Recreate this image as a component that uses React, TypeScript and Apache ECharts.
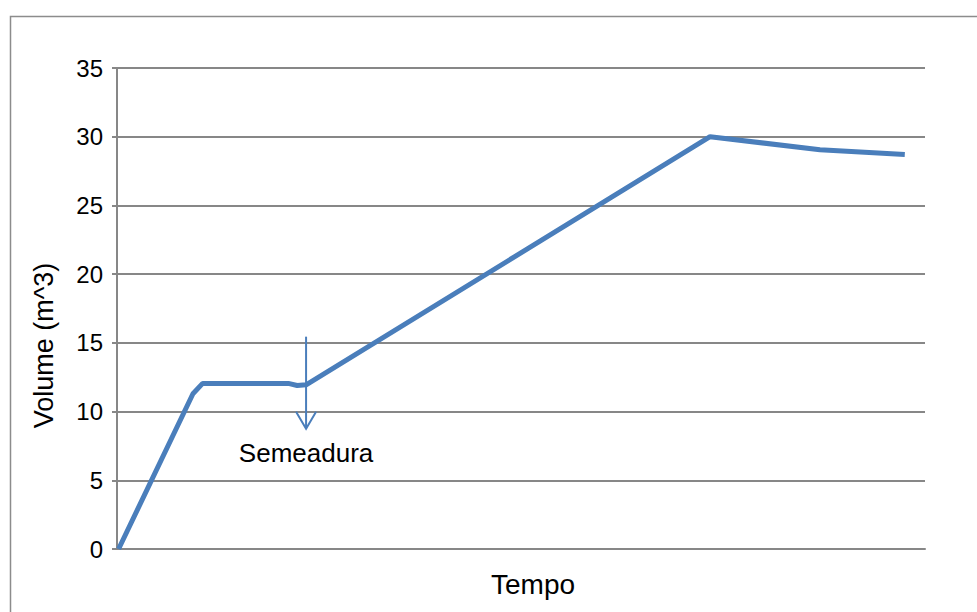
import React, { useEffect, useRef } from "react";
import * as echarts from "echarts";

const timeValues = [0.2, 9.4, 10.6, 21.2, 22.3, 23.4, 73.4, 87.0, 97.5];
const volumeValues = [0, 11.3, 12.05, 12.05, 11.9, 11.95, 30.0, 29.05, 28.7];
const yTicks = [0, 5, 10, 15, 20, 25, 30, 35];
const annotationX = [23.4];
const annotationTop = [15.45];
const annotationTip = [8.75];
const annotationLabelY = [6.95];
const annotationText = ["Semeadura"];

const FONT = "'Liberation Sans', Arial, sans-serif";
const BLUE = "#4a7ebb";
const GRAY = "#878787";

export default function App() {
  const ref = useRef<HTMLDivElement>(null);
  useEffect(() => {
    if (!ref.current) return;
    const chart = echarts.init(ref.current, undefined, { renderer: "svg" });
    const lineData = timeValues.map((t, i) => [t, volumeValues[i]]);
    const annData = annotationX.map((x, i) => [x, annotationTop[i], annotationTip[i], annotationLabelY[i]]);
    chart.setOption({
      animation: false,
      backgroundColor: "#ffffff",
      textStyle: { fontFamily: FONT },
      graphic: [
        {
          type: "rect",
          left: 8,
          top: 14,
          shape: { width: 1100, height: 800 },
          style: { fill: "none", stroke: "#8c8c8c", lineWidth: 1.5 },
          silent: true,
          z: -10,
        },
      ],
      grid: { left: 117, right: 52, top: 68, bottom: 63, containLabel: false },
      xAxis: {
        type: "value",
        min: 0,
        max: 100,
        name: "Tempo",
        nameLocation: "middle",
        nameGap: 21,
        nameTextStyle: { fontSize: 28, color: "#000", fontFamily: FONT, padding: [0, 0, 0, 24], verticalAlign: "top" },
        axisLine: { show: true, onZero: false, lineStyle: { color: GRAY, width: 2 } },
        axisTick: { show: false },
        axisLabel: { show: false },
        splitLine: { show: false },
      },
      yAxis: {
        type: "value",
        min: 0,
        max: 35,
        interval: 5,
        name: "Volume (m^3)",
        nameLocation: "middle",
        nameGap: 60,
        nameRotate: 90,
        nameTextStyle: { fontSize: 27, color: "#000", fontFamily: FONT, padding: [0, 74, 0, 0] },
        axisLine: { show: true, lineStyle: { color: GRAY, width: 2 } },
        axisTick: { show: true, length: 5, lineStyle: { color: GRAY, width: 2 } },
        axisLabel: {
          margin: 14,
          fontSize: 24,
          color: "#000",
          fontFamily: FONT,
          formatter: (v: number) => (yTicks.includes(v) ? String(v) : ""),
        },
        splitLine: { show: true, lineStyle: { color: GRAY, width: 2 } },
      },
      series: [
        {
          type: "line",
          data: lineData,
          symbol: "none",
          lineStyle: { color: BLUE, width: 5 },
          z: 3,
        },
        {
          type: "custom",
          data: annData,
          z: 4,
          renderItem: (params: any, api: any) => {
            const x = api.value(0);
            const top = api.coord([x, api.value(1)]);
            const tip = api.coord([x, api.value(2)]);
            const lab = api.coord([x, api.value(3)]);
            return {
              type: "group",
              children: [
                {
                  type: "line",
                  shape: { x1: top[0], y1: top[1], x2: tip[0], y2: tip[1] },
                  style: { stroke: BLUE, lineWidth: 2 },
                },
                {
                  type: "polyline",
                  shape: { points: [[tip[0] - 10, tip[1] - 17], [tip[0], tip[1]], [tip[0] + 10, tip[1] - 17]] },
                  style: { stroke: BLUE, lineWidth: 2, fill: "none" },
                },
                {
                  type: "text",
                  x: lab[0],
                  y: lab[1],
                  style: {
                    text: annotationText[params.dataIndex],
                    fontSize: 26,
                    fontFamily: FONT,
                    fill: "#000",
                    align: "center",
                    verticalAlign: "middle",
                  },
                },
              ],
            };
          },
        },
      ],
    });
    return () => chart.dispose();
  }, []);
  return <div ref={ref} style={{ width: 977, height: 612, position: "absolute", left: 0, top: 0 }} />;
}
